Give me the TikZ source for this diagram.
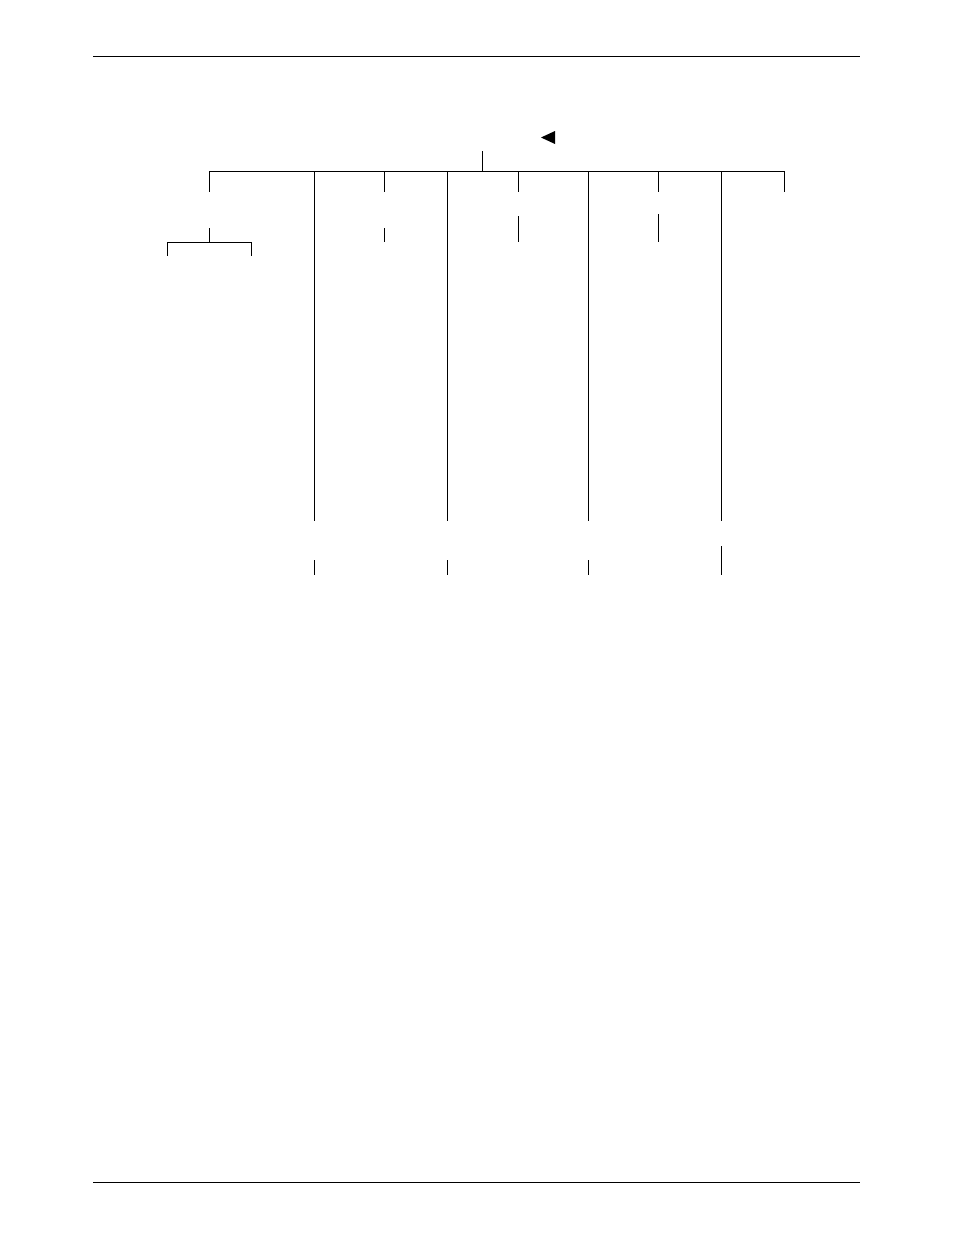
\documentclass[tikz,border=0pt]{standalone}
\usepackage{tikz}
\usetikzlibrary{positioning}

\begin{document}
\begin{tikzpicture}[x=0.75pt,y=-0.75pt,line width=0.75pt,
  rule/.style={line width=0.9pt}]
  \useasboundingbox (0,0) rectangle (954,1235);
  % page rules
  \coordinate (hdrL) at (93,56.5);  \coordinate (hdrR) at (860,56.5);
  \coordinate (ftrL) at (93,1182.5); \coordinate (ftrR) at (860,1182.5);
  \draw[rule] (hdrL) -- (hdrR);
  \draw[rule] (ftrL) -- (ftrR);
  % marker
  \fill (541,137.5) -- (555,131) -- (555,144) -- cycle;
  % root and bus
  \coordinate (root) at (482,151);
  \coordinate (bus) at (482,171);
  \coordinate (busL) at (209,171);
  \coordinate (busR) at (784,171);
  \draw (root) -- (bus) (busL) -- (busR);
  % short drops
  \foreach \x/\n in {209/a,384/b,518/c,658/d,784/e}
    \draw (\x,171) coordinate (top\n) -- (\x,192) coordinate (end\n);
  % long columns
  \foreach \x/\n in {314/p,447/q,588/r,721/s}
    \draw (\x,171) coordinate (col\n) -- (\x,521) coordinate (low\n);
  % second level stubs
  \draw (209,228) coordinate (subA) -- (209,242) coordinate (subbus);
  \draw (384,228) coordinate (subB) -- (384,242);
  \draw (518,216) coordinate (subC) -- (518,242);
  \draw (658,214) coordinate (subD) -- (658,242);
  % small branch
  \coordinate (subL) at (167,242);
  \coordinate (subR) at (251,242);
  \draw (subL) -- (subR);
  \draw (subL) -- ++(0,14) (subR) -- ++(0,14);
  % bottom stubs
  \foreach \x in {314,447,588}
    \draw (\x,560) -- (\x,575);
  \draw (721,546) coordinate (lastS) -- (721,575);
\end{tikzpicture}
\end{document}
